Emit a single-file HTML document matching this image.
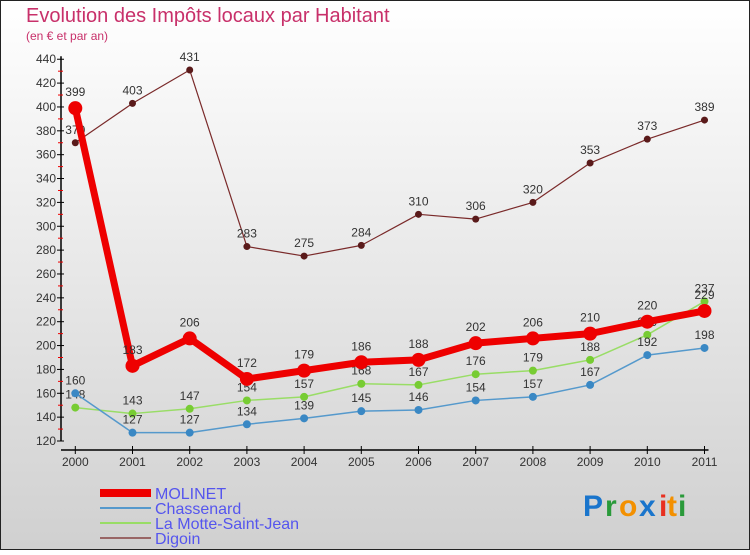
<!DOCTYPE html>
<html><head><meta charset="utf-8"><style>
html,body{margin:0;padding:0}
body{width:750px;height:550px;overflow:hidden;font-family:"Liberation Sans",sans-serif}
</style></head><body>
<svg width="750" height="550" xmlns="http://www.w3.org/2000/svg">
<defs><linearGradient id="bg" x1="0" y1="0" x2="0" y2="1"><stop offset="0" stop-color="#ffffff"/><stop offset="1" stop-color="#d0d0d0"/></linearGradient></defs>
<rect x="0.5" y="0.5" width="749" height="549" fill="url(#bg)" stroke="#222"/>
<text x="26" y="22" font-size="20" fill="#c8306a">Evolution des Impôts locaux par Habitant</text>
<text x="26" y="40" font-size="12" fill="#c8306a">(en € et par an)</text>
<g id="axes"></g><g id="series"></g><g id="legend"></g>
<g font-size="30" font-family="'Liberation Sans',sans-serif" font-weight="bold">
<text x="583" y="516" fill="#1a75cc">P</text><text x="605" y="516" fill="#2a9a3a">r</text><text x="619" y="516" fill="#f39000">o</text><text x="639" y="516" fill="#1a75cc">x</text><text x="659" y="516" fill="#e83020">i</text><text x="667" y="516" fill="#f39000">t</text><text x="678" y="516" fill="#2a9a3a">i</text>
</g>
</svg>
<script>
const years=["2000","2001","2002","2003","2004","2005","2006","2007","2008","2009","2010","2011"];
const molinet=[399,183,206,172,179,186,188,202,206,210,220,229];
const chassenard=[160,127,127,134,139,145,146,154,157,167,192,198];
const motte=[148,143,147,154,157,168,167,176,179,188,209,237];
const digoin=[370,403,431,283,275,284,310,306,320,353,373,389];
const yTicks=[120,140,160,180,200,220,240,260,280,300,320,340,360,380,400,420,440];
const NS="http://www.w3.org/2000/svg";
const X=i=>75.3+i*57.2;
const Y=v=>441-(v-120)*1.193;
function mk(p,t,a){const e=document.createElementNS(NS,t);for(const k in a)e.setAttribute(k,a[k]);p.appendChild(e);return e;}
const ax=document.getElementById('axes');
let l=mk(ax,'line',{x1:61,y1:Y(440)-3,x2:61,y2:Y(120),stroke:'#000','stroke-width':1.5});


l=mk(ax,'line',{x1:61,y1:450,x2:X(11)+4,y2:450,stroke:'#000','stroke-width':1.5});


yTicks.forEach(v=>{
  mk(ax,'line',{x1:57,y1:Y(v),x2:64,y2:Y(v),stroke:'#000'});
  if(v<440)mk(ax,'line',{x1:58,y1:Y(v+10),x2:63,y2:Y(v+10),stroke:'#e00'});
  const t=mk(ax,'text',{x:56,y:Y(v)+4,'text-anchor':'end','font-size':12,fill:'#333'});
  t.textContent=v;
  
  
});
years.forEach((y,i)=>{
  mk(ax,'line',{x1:X(i),y1:446,x2:X(i),y2:454,stroke:'#000'});
  const t=mk(ax,'text',{x:X(i),y:466,'text-anchor':'middle','font-size':12,fill:'#333'});
  t.textContent=y;
  
  
});
const sg=document.getElementById('series');
function draw(vals,color,dot,w,r,name,labelDy){
  const g=mk(sg,'g',{});
  
  
  const pl=mk(g,'polyline',{points:vals.map((v,i)=>X(i)+','+Y(v)).join(' '),fill:'none',stroke:color,'stroke-width':w,'stroke-linejoin':'round'});
  
  
  vals.forEach((v,i)=>{
    const c=mk(g,'circle',{cx:X(i),cy:Y(v),r:r,fill:dot});
    
    
    const t=mk(g,'text',{x:X(i),y:Y(v)-labelDy,'text-anchor':'middle','font-size':12,fill:'#333'});
    t.textContent=v;
    
    
  });
}
draw(digoin,'#7a2a2a','#5a1a1a',1.2,3.5,'digoin',9);
draw(motte,'#99dd66','#77cc33',1.5,4,'la-motte',9);
draw(chassenard,'#5599cc','#3a88c4',1.5,4,'chassenard',9);
draw(molinet,'#ee0000','#ee0000',7,7,'molinet',12);
const lg=document.getElementById('legend');
const items=[["MOLINET","#ee0000",8],["Chassenard","#5599cc",2],["La Motte-Saint-Jean","#99dd66",2],["Digoin","#996666",2]];
items.forEach((it,i)=>{
  const y=493+i*15;
  const ln=mk(lg,'line',{x1:100,y1:y,x2:151,y2:y,stroke:it[1],'stroke-width':it[2]});
  
  
  const t=mk(lg,'text',{x:155,y:y+6,'font-size':16,fill:'#5555ee'});
  t.textContent=it[0];
  
  
});
</script>
</body></html>
